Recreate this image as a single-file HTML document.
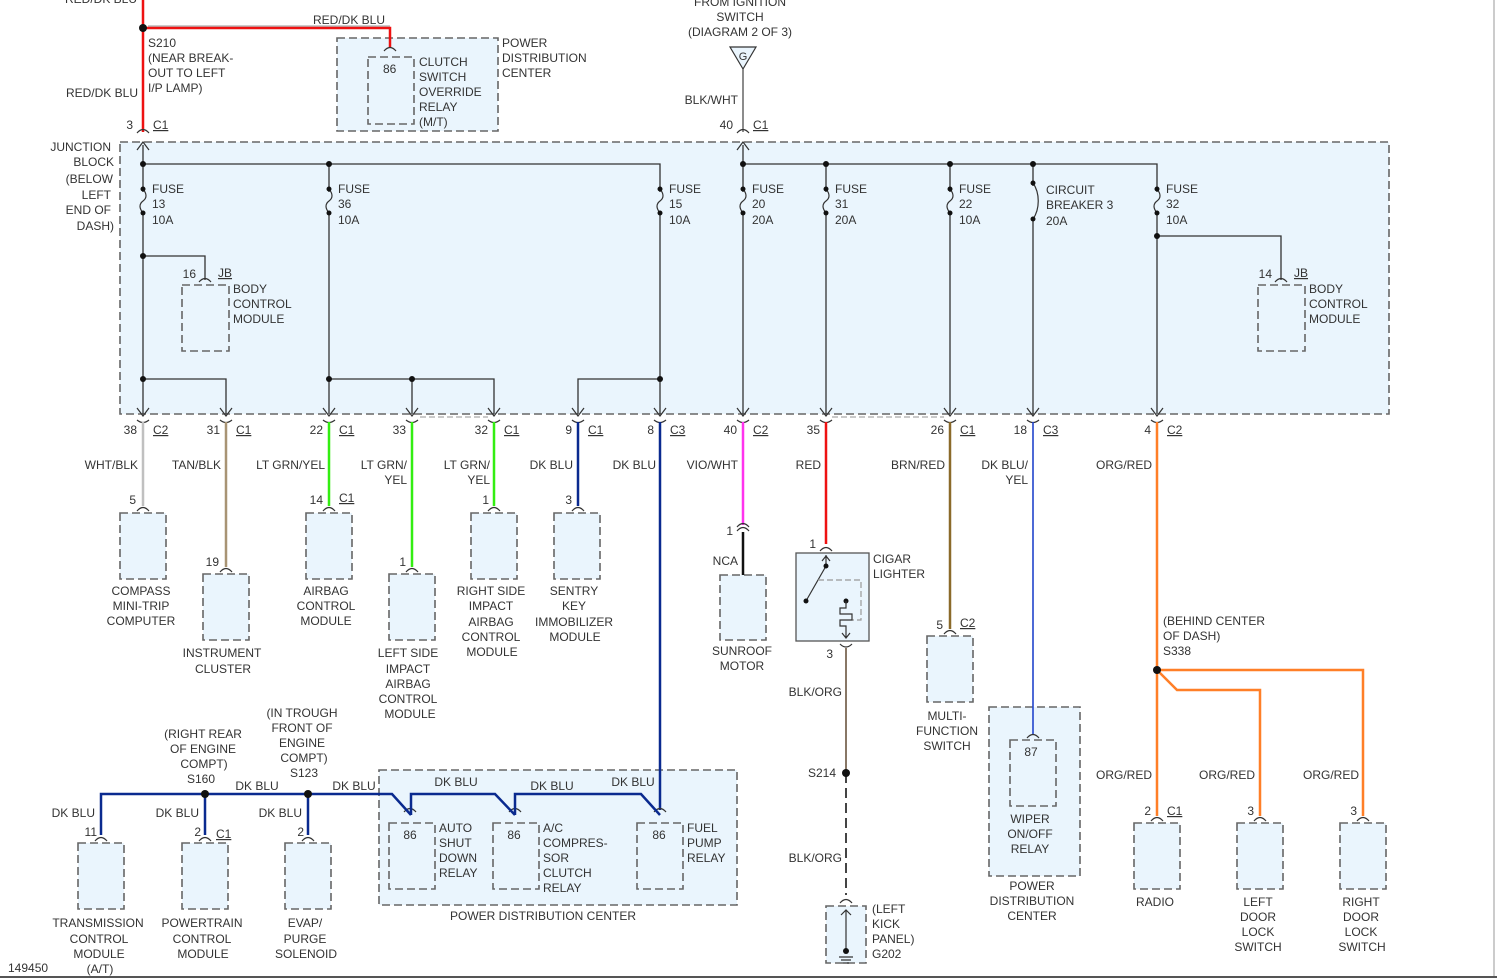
<!DOCTYPE html>
<html><head><meta charset="utf-8"><style>
html,body{margin:0;padding:0;background:#fff;}
svg{display:block;}
text{font-family:"Liberation Sans",sans-serif;font-size:12px;fill:#333;}
.m{text-anchor:middle}.e{text-anchor:end}
.bx{fill:#eaf5fd;stroke:#666;stroke-width:1.6;stroke-dasharray:8 4}
.w{fill:none;stroke:#333;stroke-width:1.3}
.p{fill:none;stroke:#333;stroke-width:1.2}
</style></head><body>
<svg width="1497" height="978" viewBox="0 0 1497 978" xmlns="http://www.w3.org/2000/svg">
<rect width="1497" height="978" fill="#fff"/>
<line x1="1494" y1="0" x2="1494" y2="978" stroke="#999" stroke-width="1"/>
<line x1="0" y1="977" x2="1497" y2="977" stroke="#555" stroke-width="2"/>

<!-- boxes -->
<rect class="bx" x="120" y="142" width="1269" height="272"/>
<rect class="bx" x="337" y="38" width="161" height="93"/>
<rect class="bx" x="368" y="57" width="46" height="67"/>
<rect class="bx" x="182" y="285" width="47" height="66"/>
<rect class="bx" x="1258" y="285" width="47" height="66"/>
<rect class="bx" x="120" y="513" width="46" height="66"/>
<rect class="bx" x="203" y="574" width="46" height="66"/>
<rect class="bx" x="306" y="513" width="46" height="66"/>
<rect class="bx" x="389" y="574" width="46" height="66"/>
<rect class="bx" x="471" y="513" width="46" height="66"/>
<rect class="bx" x="554" y="513" width="46" height="66"/>
<rect class="bx" x="720" y="575" width="46" height="65"/>
<rect x="796" y="553" width="73" height="88" fill="#eaf5fd" stroke="#555" stroke-width="1.3"/>
<rect class="bx" x="927" y="636" width="46" height="66"/>
<rect class="bx" x="989" y="707" width="91" height="169"/>
<rect class="bx" x="1010" y="740" width="46" height="66"/>
<rect class="bx" x="1134" y="823" width="46" height="66"/>
<rect class="bx" x="1237" y="823" width="46" height="66"/>
<rect class="bx" x="1340" y="823" width="46" height="66"/>
<rect class="bx" x="379" y="770" width="358" height="135"/>
<rect class="bx" x="389" y="823" width="46" height="66"/>
<rect class="bx" x="493" y="823" width="46" height="66"/>
<rect class="bx" x="637" y="823" width="46" height="66"/>
<rect class="bx" x="78" y="843" width="46" height="66"/>
<rect class="bx" x="182" y="843" width="46" height="66"/>
<rect class="bx" x="285" y="843" width="46" height="66"/>
<rect class="bx" x="826" y="906" width="40" height="57"/>

<!-- red top wires -->
<path d="M143,0 V132 M143,28 H390 V48" fill="none" stroke="#ee1111" stroke-width="2.5"/>
<path d="M148,28 H390" fill="none" stroke="#333" stroke-width="0.6" transform="translate(0,-2)"/>
<circle cx="143" cy="28" r="4" fill="#111"/>
<!-- ignition -->
<path d="M730,47 H756 L743,69 Z" fill="#eaf5fd" stroke="#333" stroke-width="1.2"/>
<text x="743" y="60" class="m" style="font-size:11px">G</text>
<line x1="743" y1="69" x2="743" y2="132" stroke="#666" stroke-width="1.5"/>

<!-- internal JB wiring -->
<path class="w" d="M143,145 V414 M143,164 H660 V414 M329,164 V414 M743,145 V414 M743,164 H1157 V414 M826,164 V414 M950,164 V414 M1033,164 V414"/>
<path class="w" d="M143,256 H205 V280 M143,379 H226 V414 M329,379 H494 V414 M412,379 V414 M660,379 H578 V414 M1157,236 H1281 V280"/>
<!-- fuse gaps -->
<g fill="#fff" stroke="none">
<rect x="139" y="192" width="8" height="20" fill="#eaf5fd"/><rect x="325" y="192" width="8" height="20" fill="#eaf5fd"/>
<rect x="656" y="192" width="8" height="20" fill="#eaf5fd"/><rect x="739" y="192" width="8" height="20" fill="#eaf5fd"/>
<rect x="822" y="192" width="8" height="20" fill="#eaf5fd"/><rect x="946" y="192" width="8" height="20" fill="#eaf5fd"/>
<rect x="1153" y="192" width="8" height="20" fill="#eaf5fd"/><rect x="1029" y="186" width="8" height="32" fill="#eaf5fd"/>
</g>
<g class="p">
<path d="M143,189 c4,5 4,9 0,12 c-4,3 -4,7 0,12"/><path d="M329,189 c4,5 4,9 0,12 c-4,3 -4,7 0,12"/>
<path d="M660,189 c4,5 4,9 0,12 c-4,3 -4,7 0,12"/><path d="M743,189 c4,5 4,9 0,12 c-4,3 -4,7 0,12"/>
<path d="M826,189 c4,5 4,9 0,12 c-4,3 -4,7 0,12"/><path d="M950,189 c4,5 4,9 0,12 c-4,3 -4,7 0,12"/>
<path d="M1157,189 c4,5 4,9 0,12 c-4,3 -4,7 0,12"/><path d="M1033,183 c7,10 7,26 0,36"/>
</g>
<g fill="#111">
<circle cx="143" cy="164" r="3"/><circle cx="329" cy="164" r="3"/><circle cx="743" cy="164" r="3"/><circle cx="826" cy="164" r="3"/><circle cx="950" cy="164" r="3"/><circle cx="1033" cy="164" r="3"/>
<circle cx="143" cy="189" r="2.5"/><circle cx="143" cy="213" r="2.5"/><circle cx="329" cy="189" r="2.5"/><circle cx="329" cy="213" r="2.5"/>
<circle cx="660" cy="189" r="2.5"/><circle cx="660" cy="213" r="2.5"/><circle cx="743" cy="189" r="2.5"/><circle cx="743" cy="213" r="2.5"/>
<circle cx="826" cy="189" r="2.5"/><circle cx="826" cy="213" r="2.5"/><circle cx="950" cy="189" r="2.5"/><circle cx="950" cy="213" r="2.5"/>
<circle cx="1157" cy="189" r="2.5"/><circle cx="1157" cy="213" r="2.5"/><circle cx="1033" cy="183" r="2.5"/><circle cx="1033" cy="219" r="2.5"/>
<circle cx="143" cy="256" r="3"/><circle cx="143" cy="379" r="3"/><circle cx="329" cy="379" r="3"/><circle cx="412" cy="379" r="3"/><circle cx="660" cy="379" r="3"/><circle cx="1157" cy="236" r="3"/>
</g>
<!-- top connectors of JB -->
<g class="p">
<path d="M137,133 q6,-7 12,0 M137,150 l6,-8 l6,8"/><path d="M737,133 q6,-7 12,0 M737,150 l6,-8 l6,8"/>
<path d="M384,51 q6,-7 12,0"/><path d="M199,282 q6,-7 12,0"/><path d="M1275,282 q6,-7 12,0"/>
</g>
<!-- bottom connectors -->
<g class="p">
<path d="M137,408 l6,8 l6,-8 M137,420 q6,5 12,0"/><path d="M220,408 l6,8 l6,-8 M220,420 q6,5 12,0"/>
<path d="M323,408 l6,8 l6,-8 M323,420 q6,5 12,0"/><path d="M406,408 l6,8 l6,-8 M406,420 q6,5 12,0"/>
<path d="M488,408 l6,8 l6,-8 M488,420 q6,5 12,0"/><path d="M572,408 l6,8 l6,-8 M572,420 q6,5 12,0"/>
<path d="M654,408 l6,8 l6,-8 M654,420 q6,5 12,0"/><path d="M737,408 l6,8 l6,-8 M737,420 q6,5 12,0"/>
<path d="M820,408 l6,8 l6,-8 M820,420 q6,5 12,0"/><path d="M944,408 l6,8 l6,-8 M944,420 q6,5 12,0"/>
<path d="M1027,408 l6,8 l6,-8 M1027,420 q6,5 12,0"/><path d="M1151,408 l6,8 l6,-8 M1151,420 q6,5 12,0"/>
</g>
<path d="M420,417 H488 M832,417 H944" stroke="#aaa" stroke-width="1.2" stroke-dasharray="6 3"/>

<!-- colored wires -->
<path d="M143,422 V506" stroke="#c0c0c0" stroke-width="2.5"/>
<path d="M226,422 V567" stroke="#a89474" stroke-width="2.5"/>
<path d="M329,422 V506 M412,422 V567 M494,422 V506" stroke="#33ee11" stroke-width="2.5"/>
<path d="M578,422 V506" stroke="#0a2a8f" stroke-width="2.5"/>
<path d="M660,422 V810" stroke="#0a2a8f" stroke-width="2.5"/>
<path d="M743,422 V525" stroke="#ff33ee" stroke-width="2.5"/>
<path d="M743,532 V575" stroke="#111" stroke-width="2.5"/>
<path d="M826,422 V544" stroke="#ee1111" stroke-width="2.5"/>
<path d="M950,422 V629" stroke="#8b6a2a" stroke-width="2.5"/>
<path d="M1033,422 V735" stroke="#2244cc" stroke-width="1.6"/>
<path d="M1157,422 V816 M1157,670 H1363 V816 M1157,670 L1177,690 H1260 V816" fill="none" stroke="#ff7f27" stroke-width="2.5"/>
<circle cx="1157" cy="670" r="4" fill="#111"/>
<!-- pins on boxes -->
<g class="p">
<path d="M137,511 q6,-7 12,0"/><path d="M220,572 q6,-7 12,0"/><path d="M323,511 q6,-7 12,0"/><path d="M406,572 q6,-7 12,0"/>
<path d="M488,511 q6,-7 12,0"/><path d="M572,511 q6,-7 12,0"/><path d="M737,531 q6,-7 12,0 M737,527 q6,-7 12,0"/><path d="M820,551 q6,-7 12,0"/>
<path d="M944,634 q6,-7 12,0"/><path d="M1027,738 q6,-7 12,0"/><path d="M1151,821 q6,-7 12,0"/><path d="M1254,821 q6,-7 12,0"/><path d="M1357,821 q6,-7 12,0"/>
<path d="M404,812 q6,-7 12,0"/><path d="M509,812 q6,-7 12,0"/><path d="M654,812 q6,-7 12,0"/>
<path d="M95,841 q6,-7 12,0"/><path d="M199,841 q6,-7 12,0"/><path d="M302,841 q6,-7 12,0"/>
<path d="M840,644 q6,6 12,0"/><path d="M840,903 q6,-7 12,0"/>
</g>
<!-- cigar lighter internals -->
<path class="p" d="M826,555 V566 L806,601 M822,561 l4,-5 l4,5"/>
<circle cx="826" cy="566" r="2.5" fill="#111"/><circle cx="806" cy="601" r="2.5" fill="#111"/>
<circle cx="846" cy="601" r="2.5" fill="#111"/>
<path d="M818,580 H861 V620 H852" fill="none" stroke="#999" stroke-width="1.2" stroke-dasharray="6 3"/>
<path class="p" d="M846,601 V608 H840 V614 H852 V620 H840 V626 H846 V638 M842,633 l4,5 l4,-5"/>
<!-- ground wire -->
<path d="M846,648 V773" stroke="#887766" stroke-width="2"/>
<path d="M846,773 V895" stroke="#444" stroke-width="2" stroke-dasharray="10 5"/>
<circle cx="846" cy="773" r="4" fill="#111"/>
<path class="p" d="M846,910 V952 M841,915 l5,-5 l5,5 M839,957 H853 M841,960 H851 M843,963 H849"/>
<circle cx="846" cy="951" r="3" fill="#111"/>
<!-- lower dk blu bus -->
<path d="M101,835 V794 H392 L411,815 M411,815 V794 H495 L515,815 M515,815 V794 H641 L660,815 M205,794 V835 M308,794 V835" fill="none" stroke="#0a2a8f" stroke-width="2.5"/>
<circle cx="205" cy="794" r="4" fill="#111"/><circle cx="308" cy="794" r="4" fill="#111"/>

<!-- TEXT -->
<text x="65" y="3">RED/DK BLU</text>
<text x="313" y="24">RED/DK BLU</text>
<text x="148" y="47">S210</text><text x="148" y="62">(NEAR BREAK-</text><text x="148" y="77">OUT TO LEFT</text><text x="148" y="92">I/P LAMP)</text>
<text x="138" y="97" class="e">RED/DK BLU</text>
<text x="133" y="129" class="e">3</text><text x="153" y="129" text-decoration="underline">C1</text>
<text x="502" y="47">POWER</text><text x="502" y="62">DISTRIBUTION</text><text x="502" y="77">CENTER</text>
<text x="383" y="73">86</text>
<text x="419" y="66">CLUTCH</text><text x="419" y="81">SWITCH</text><text x="419" y="96">OVERRIDE</text><text x="419" y="111">RELAY</text><text x="419" y="126">(M/T)</text>
<text x="740" y="6" class="m">FROM IGNITION</text><text x="740" y="21" class="m">SWITCH</text><text x="740" y="36" class="m">(DIAGRAM 2 OF 3)</text>
<text x="738" y="104" class="e">BLK/WHT</text>
<text x="733" y="129" class="e">40</text><text x="753" y="129" text-decoration="underline">C1</text>
<text x="111" y="151" class="e">JUNCTION</text><text x="114" y="166" class="e">BLOCK</text><text x="113" y="183" class="e">(BELOW</text><text x="111" y="199" class="e">LEFT</text><text x="111" y="214" class="e">END OF</text><text x="114" y="230" class="e">DASH)</text>
<text x="152" y="193">FUSE</text><text x="152" y="208">13</text><text x="152" y="224">10A</text>
<text x="338" y="193">FUSE</text><text x="338" y="208">36</text><text x="338" y="224">10A</text>
<text x="669" y="193">FUSE</text><text x="669" y="208">15</text><text x="669" y="224">10A</text>
<text x="752" y="193">FUSE</text><text x="752" y="208">20</text><text x="752" y="224">20A</text>
<text x="835" y="193">FUSE</text><text x="835" y="208">31</text><text x="835" y="224">20A</text>
<text x="959" y="193">FUSE</text><text x="959" y="208">22</text><text x="959" y="224">10A</text>
<text x="1046" y="194">CIRCUIT</text><text x="1046" y="209">BREAKER 3</text><text x="1046" y="225">20A</text>
<text x="1166" y="193">FUSE</text><text x="1166" y="208">32</text><text x="1166" y="224">10A</text>
<text x="196" y="278" class="e">16</text><text x="218" y="277" text-decoration="underline">JB</text>
<text x="233" y="293">BODY</text><text x="233" y="308">CONTROL</text><text x="233" y="323">MODULE</text>
<text x="1272" y="278" class="e">14</text><text x="1294" y="277" text-decoration="underline">JB</text>
<text x="1309" y="293">BODY</text><text x="1309" y="308">CONTROL</text><text x="1309" y="323">MODULE</text>
<!-- bottom pin labels -->
<text x="137" y="434" class="e">38</text><text x="153" y="434" text-decoration="underline">C2</text>
<text x="220" y="434" class="e">31</text><text x="236" y="434" text-decoration="underline">C1</text>
<text x="323" y="434" class="e">22</text><text x="339" y="434" text-decoration="underline">C1</text>
<text x="406" y="434" class="e">33</text>
<text x="488" y="434" class="e">32</text><text x="504" y="434" text-decoration="underline">C1</text>
<text x="572" y="434" class="e">9</text><text x="588" y="434" text-decoration="underline">C1</text>
<text x="654" y="434" class="e">8</text><text x="670" y="434" text-decoration="underline">C3</text>
<text x="737" y="434" class="e">40</text><text x="753" y="434" text-decoration="underline">C2</text>
<text x="820" y="434" class="e">35</text>
<text x="944" y="434" class="e">26</text><text x="960" y="434" text-decoration="underline">C1</text>
<text x="1027" y="434" class="e">18</text><text x="1043" y="434" text-decoration="underline">C3</text>
<text x="1151" y="434" class="e">4</text><text x="1167" y="434" text-decoration="underline">C2</text>
<!-- wire labels -->
<text x="138" y="469" class="e">WHT/BLK</text>
<text x="221" y="469" class="e">TAN/BLK</text>
<text x="325" y="469" class="e">LT GRN/YEL</text>
<text x="407" y="469" class="e">LT GRN/</text><text x="407" y="484" class="e">YEL</text>
<text x="490" y="469" class="e">LT GRN/</text><text x="490" y="484" class="e">YEL</text>
<text x="573" y="469" class="e">DK BLU</text>
<text x="656" y="469" class="e">DK BLU</text>
<text x="738" y="469" class="e">VIO/WHT</text>
<text x="821" y="469" class="e">RED</text>
<text x="945" y="469" class="e">BRN/RED</text>
<text x="1028" y="469" class="e">DK BLU/</text><text x="1028" y="484" class="e">YEL</text>
<text x="1152" y="469" class="e">ORG/RED</text>
<!-- module pins -->
<text x="136" y="504" class="e">5</text>
<text x="219" y="566" class="e">19</text>
<text x="323" y="504" class="e">14</text><text x="339" y="502" text-decoration="underline">C1</text>
<text x="406" y="566" class="e">1</text>
<text x="489" y="504" class="e">1</text>
<text x="572" y="504" class="e">3</text>
<text x="733" y="535" class="e">1</text>
<text x="738" y="565" class="e">NCA</text>
<text x="816" y="548" class="e">1</text>
<!-- module labels -->
<text x="141" y="595" class="m">COMPASS</text><text x="141" y="610" class="m">MINI-TRIP</text><text x="141" y="625" class="m">COMPUTER</text>
<text x="222" y="657" class="m">INSTRUMENT</text><text x="223" y="673" class="m">CLUSTER</text>
<text x="326" y="595" class="m">AIRBAG</text><text x="326" y="610" class="m">CONTROL</text><text x="326" y="625" class="m">MODULE</text>
<text x="408" y="657" class="m">LEFT SIDE</text><text x="408" y="673" class="m">IMPACT</text><text x="408" y="688" class="m">AIRBAG</text><text x="408" y="703" class="m">CONTROL</text><text x="410" y="718" class="m">MODULE</text>
<text x="491" y="595" class="m">RIGHT SIDE</text><text x="491" y="610" class="m">IMPACT</text><text x="491" y="626" class="m">AIRBAG</text><text x="491" y="641" class="m">CONTROL</text><text x="492" y="656" class="m">MODULE</text>
<text x="574" y="595" class="m">SENTRY</text><text x="574" y="610" class="m">KEY</text><text x="574" y="626" class="m">IMMOBILIZER</text><text x="575" y="641" class="m">MODULE</text>
<text x="742" y="655" class="m">SUNROOF</text><text x="742" y="670" class="m">MOTOR</text>
<text x="873" y="563">CIGAR</text><text x="873" y="578">LIGHTER</text>
<text x="833" y="658" class="e">3</text>
<text x="842" y="696" class="e">BLK/ORG</text>
<text x="836" y="777" class="e">S214</text>
<text x="842" y="862" class="e">BLK/ORG</text>
<text x="872" y="913">(LEFT</text><text x="872" y="928">KICK</text><text x="872" y="943">PANEL)</text><text x="872" y="958">G202</text>
<text x="943" y="629" class="e">5</text><text x="960" y="627" text-decoration="underline">C2</text>
<text x="947" y="720" class="m">MULTI-</text><text x="947" y="735" class="m">FUNCTION</text><text x="947" y="750" class="m">SWITCH</text>
<text x="1031" y="756" class="m">87</text>
<text x="1030" y="823" class="m">WIPER</text><text x="1030" y="838" class="m">ON/OFF</text><text x="1030" y="853" class="m">RELAY</text>
<text x="1032" y="890" class="m">POWER</text><text x="1032" y="905" class="m">DISTRIBUTION</text><text x="1032" y="920" class="m">CENTER</text>
<text x="1163" y="625">(BEHIND CENTER</text><text x="1163" y="640">OF DASH)</text><text x="1163" y="655">S338</text>
<text x="1152" y="779" class="e">ORG/RED</text><text x="1255" y="779" class="e">ORG/RED</text><text x="1359" y="779" class="e">ORG/RED</text>
<text x="1151" y="815" class="e">2</text><text x="1167" y="815" text-decoration="underline">C1</text>
<text x="1254" y="815" class="e">3</text><text x="1357" y="815" class="e">3</text>
<text x="1155" y="906" class="m">RADIO</text>
<text x="1258" y="906" class="m">LEFT</text><text x="1258" y="921" class="m">DOOR</text><text x="1258" y="936" class="m">LOCK</text><text x="1258" y="951" class="m">SWITCH</text>
<text x="1361" y="906" class="m">RIGHT</text><text x="1361" y="921" class="m">DOOR</text><text x="1361" y="936" class="m">LOCK</text><text x="1362" y="951" class="m">SWITCH</text>
<!-- lower left -->
<text x="203" y="738" class="m">(RIGHT REAR</text><text x="203" y="753" class="m">OF ENGINE</text><text x="204" y="768" class="m">COMPT)</text><text x="201" y="783" class="m">S160</text>
<text x="302" y="717" class="m">(IN TROUGH</text><text x="302" y="732" class="m">FRONT OF</text><text x="302" y="747" class="m">ENGINE</text><text x="304" y="762" class="m">COMPT)</text><text x="304" y="777" class="m">S123</text>
<text x="257" y="790" class="m">DK BLU</text><text x="354" y="790" class="m">DK BLU</text>
<text x="95" y="817" class="e">DK BLU</text><text x="199" y="817" class="e">DK BLU</text><text x="302" y="817" class="e">DK BLU</text>
<text x="97" y="836" class="e">11</text>
<text x="201" y="836" class="e">2</text><text x="216" y="838" text-decoration="underline">C1</text>
<text x="304" y="836" class="e">2</text>
<text x="98" y="927" class="m">TRANSMISSION</text><text x="99" y="943" class="m">CONTROL</text><text x="99" y="958" class="m">MODULE</text><text x="100" y="973" class="m">(A/T)</text>
<text x="202" y="927" class="m">POWERTRAIN</text><text x="202" y="943" class="m">CONTROL</text><text x="203" y="958" class="m">MODULE</text>
<text x="305" y="927" class="m">EVAP/</text><text x="305" y="943" class="m">PURGE</text><text x="306" y="958" class="m">SOLENOID</text>
<text x="8" y="972">149450</text>
<text x="456" y="786" class="m">DK BLU</text><text x="552" y="790" class="m">DK BLU</text><text x="633" y="786" class="m">DK BLU</text>
<text x="410" y="839" class="m">86</text><text x="514" y="839" class="m">86</text><text x="659" y="839" class="m">86</text>
<text x="439" y="832">AUTO</text><text x="439" y="847">SHUT</text><text x="439" y="862">DOWN</text><text x="439" y="877">RELAY</text>
<text x="543" y="832">A/C</text><text x="543" y="847">COMPRES-</text><text x="543" y="862">SOR</text><text x="543" y="877">CLUTCH</text><text x="543" y="892">RELAY</text>
<text x="687" y="832">FUEL</text><text x="687" y="847">PUMP</text><text x="687" y="862">RELAY</text>
<text x="543" y="920" class="m">POWER DISTRIBUTION CENTER</text>
</svg>
</body></html>
